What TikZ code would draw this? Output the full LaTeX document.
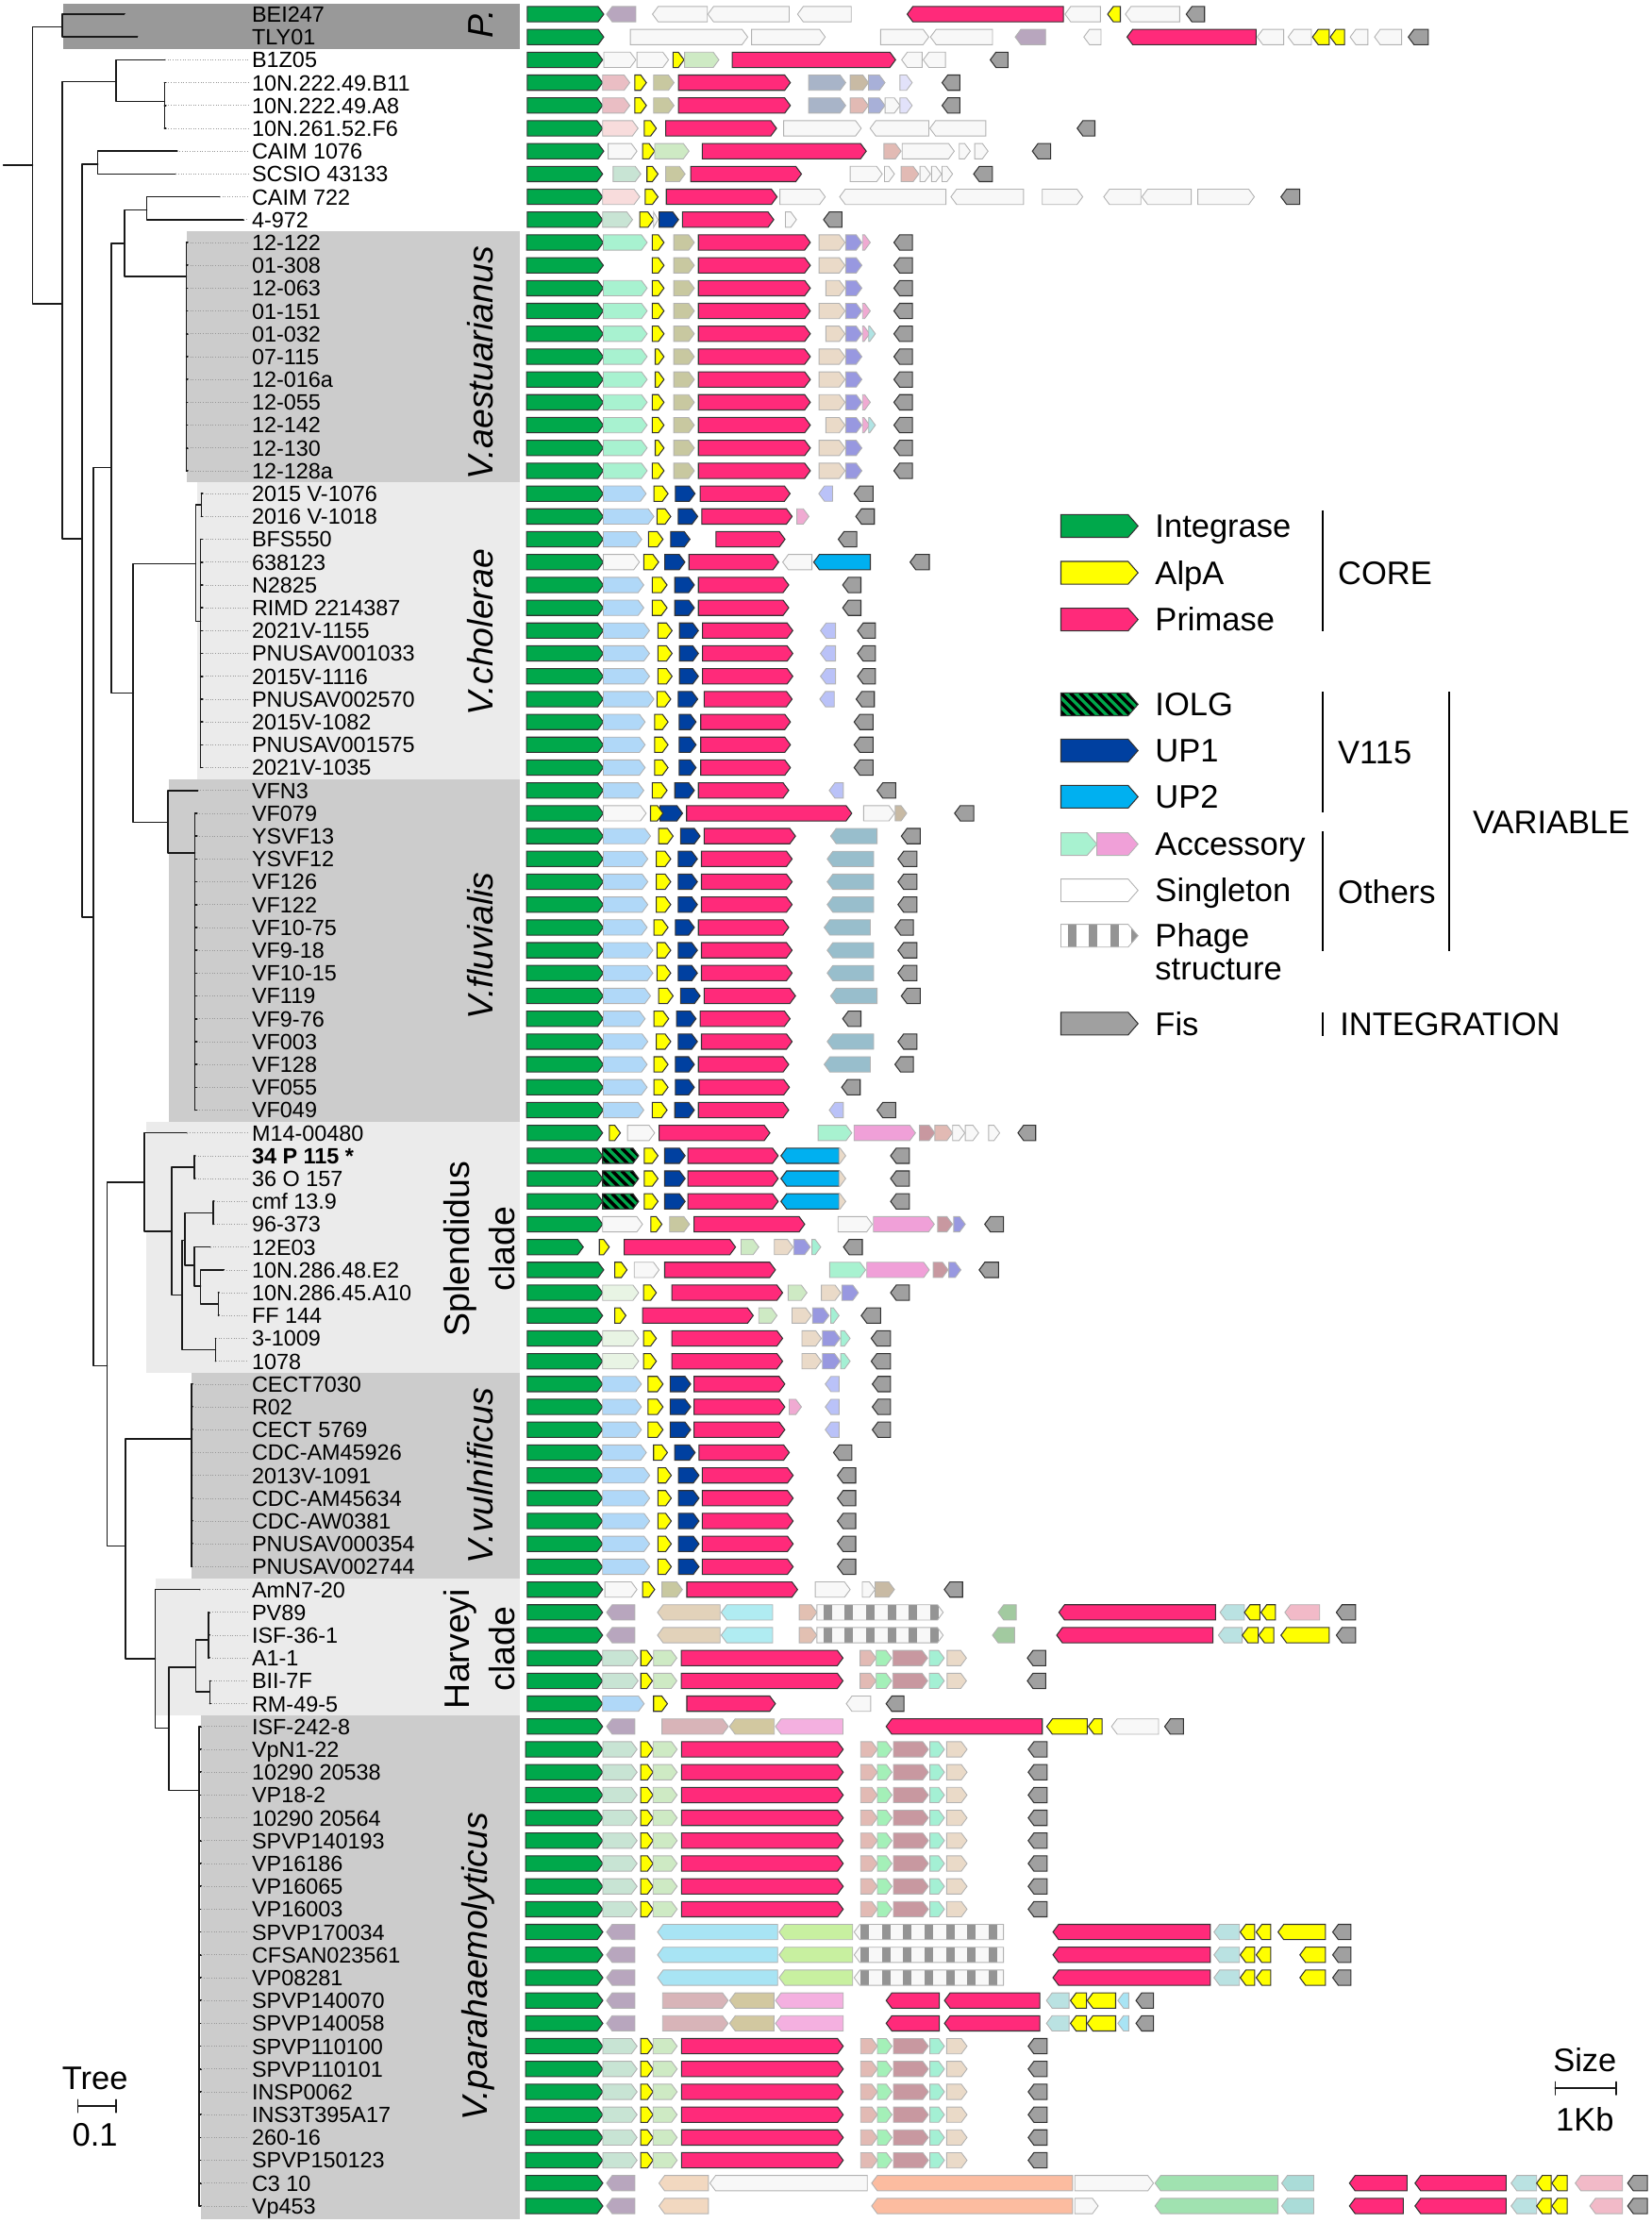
\documentclass[tikz,border=0pt]{standalone}
\usepackage{fontspec}
\setmainfont{Liberation Sans}
\definecolor{intg}{RGB}{0,168,75}
\definecolor{alpa}{RGB}{255,255,0}
\definecolor{prim}{RGB}{255,42,122}
\definecolor{upa}{RGB}{0,64,160}
\definecolor{upb}{RGB}{0,176,240}
\definecolor{fis}{RGB}{160,160,160}
\definecolor{mint}{RGB}{168,242,208}
\definecolor{pnk}{RGB}{240,160,216}
\definecolor{sgl}{RGB}{248,248,248}
\definecolor{mauv}{RGB}{184,166,190}
\definecolor{rosl}{RGB}{234,190,196}
\definecolor{khak}{RGB}{200,200,160}
\definecolor{stel}{RGB}{168,180,200}
\definecolor{tan}{RGB}{200,186,164}
\definecolor{lavb}{RGB}{168,176,216}
\definecolor{lavl}{RGB}{226,226,250}
\definecolor{pnkl}{RGB}{248,220,220}
\definecolor{grnl}{RGB}{206,234,196}
\definecolor{mgry}{RGB}{200,228,212}
\definecolor{rose}{RGB}{226,186,180}
\definecolor{beig}{RGB}{234,218,200}
\definecolor{lav}{RGB}{152,152,224}
\definecolor{pnks}{RGB}{240,170,210}
\definecolor{aqua}{RGB}{176,228,228}
\definecolor{lblu}{RGB}{176,216,248}
\definecolor{lavr}{RGB}{186,194,248}
\definecolor{teal}{RGB}{152,190,204}
\definecolor{drse}{RGB}{200,152,160}
\definecolor{mntg}{RGB}{164,240,184}
\definecolor{aqm}{RGB}{164,240,212}
\definecolor{gwht}{RGB}{232,244,228}
\definecolor{beih}{RGB}{226,210,186}
\definecolor{cyan}{RGB}{176,236,242}
\definecolor{salb}{RGB}{226,192,178}
\definecolor{grnh}{RGB}{162,202,160}
\definecolor{tlgt}{RGB}{186,226,226}
\definecolor{pnkh}{RGB}{242,186,200}
\definecolor{lcyn}{RGB}{168,228,244}
\definecolor{lime}{RGB}{200,240,160}
\definecolor{rsek}{RGB}{216,180,184}
\definecolor{khk2}{RGB}{210,200,160}
\definecolor{pnk2}{RGB}{244,176,224}
\definecolor{pch}{RGB}{242,216,192}
\definecolor{slm}{RGB}{252,188,160}
\definecolor{mgr}{RGB}{160,226,176}
\definecolor{tl2}{RGB}{170,220,216}
\definecolor{boxd}{gray}{0.6}
\definecolor{boxm}{gray}{0.8}
\definecolor{boxl}{gray}{0.92}
\tikzset{
  gF/.style={draw=black!80, line width=0.6pt},
  gR/.style={gF},
  gf/.style={draw=black!30, line width=0.5pt},
  gr/.style={gf},
  gs/.style={gF, path picture={\foreach \k in {-4,...,16}{\draw[black, line width=2pt] ([xshift=\k*0.2cm]path picture bounding box.north west) -- ++(0.6cm,-0.6cm);}}},
  gp/.style={gf, path picture={\foreach \k in {0,...,12}{\fill[black!42] ([xshift=\k*0.45cm+0.14cm]path picture bounding box.north west) rectangle ++(0.18cm,-0.6cm);}}},
  gq/.style={gp},
  tree/.style={draw=black!90, line width=0.9pt, line cap=round, line join=round},
  leader/.style={draw=black!40, line width=0.4pt, dash pattern=on 0.5pt off 1pt, shorten >=2pt},
  lab/.style={anchor=base west, inner sep=0pt, font=\fontsize{13.3}{15}\selectfont},
  clade/.style={rotate=90, inner sep=0pt, align=center, font=\fontsize{21.3}{27.3}\selectfont},
  leg/.style={anchor=base west, inner sep=0pt, font=\fontsize{19.6}{19.6}\selectfont},
  brk/.style={line width=1.2pt},
}
% gene arrows: x-from, x-to, y, colour, kind
\def\gdirF{1}\def\gdirR{-1}\def\gdirf{1}\def\gdirr{-1}\def\gdirs{1}\def\gdirp{1}\def\gdirq{-1}
\def\ght{5.4}\def\gtp{4}\def\gox{359.5}\def\gsc{1}
\newcommand\garrow[5]{%
  \pgfmathsetmacro\gdd{\csname gdir#5\endcsname}%
  \pgfmathsetmacro\gtt{min(\gtp,(#2)-(#1))}%
  \pgfmathsetmacro\gtl{\gdd>0 ? #1 : #2}%
  \pgfmathsetmacro\ghd{\gdd>0 ? #2 : #1}%
  \pgfmathsetmacro\gnk{\ghd-\gdd*\gtt}%
  \path[g#5, fill=#4] (\gtl,#3-\ght) -- (\gnk,#3-\ght) -- (\ghd,#3) -- (\gnk,#3+\ght) -- (\gtl,#3+\ght) -- cycle;}
\newcommand\generow[2]{%
  \pgfmathsetmacro\gyy{ry(#1)}%
  \edef\glist{#2}%
  \foreach \xa/\xb/\gc/\gk in \glist {%
    \pgfmathsetmacro\gaa{\gox+\xa*\gsc}%
    \pgfmathsetmacro\gbb{\gox+\xb*\gsc}%
    \garrow{\gaa}{\gbb}{\gyy}{\gc}{\gk}}}
\begin{document}
\begin{tikzpicture}[x=0.03cm, y=-0.03cm, declare function={ry(\r)=10+(\r-1)*16.104;}]
\useasboundingbox (0,0) rectangle (1165,1568);

\fill[boxd] (44.5,2.7) rectangle (367,34.8);
\fill[boxm] (131.5,{ry(10.5)}) rectangle (367,{ry(21.5)});
\fill[boxl] (139,{ry(21.5)}) rectangle (367,{ry(34.5)});
\fill[boxm] (119.4,{ry(34.5)}) rectangle (367,{ry(49.5)});
\fill[boxl] (103,{ry(49.5)}) rectangle (367,{ry(60.5)});
\fill[boxm] (135,{ry(60.5)}) rectangle (367,{ry(69.5)});
\fill[boxl] (110,{ry(69.5)}) rectangle (367,{ry(75.5)});
\fill[boxm] (141.5,{ry(75.5)}) rectangle (367,1565);

\node[clade, font=\fontsize{21.3}{27.3}\selectfont\itshape] (cP) at (339,17) {P.};
\node[clade, font=\fontsize{21.3}{27.3}\selectfont\itshape] (cAes) at (339,256) {V.aestuarianus};
\node[clade, font=\fontsize{21.3}{27.3}\selectfont\itshape] (cCho) at (339,446) {V.cholerae};
\node[clade, font=\fontsize{21.3}{27.3}\selectfont\itshape] (cFlu) at (339,667) {V.fluvialis};
\node[clade] (cSpl) at (338,881) {Splendidus\\clade};
\node[clade, font=\fontsize{21.3}{27.3}\selectfont\itshape] (cVul) at (339,1041) {V.vulnificus};
\node[clade] (cHar) at (338,1163) {Harveyi\\clade};
\node[clade, font=\fontsize{21.3}{27.3}\selectfont\itshape] (cPar) at (337,1387) {V.parahaemolyticus};

\draw[tree]
  (2.4,{ry(7.62)}) -- (23,{ry(7.62)})
  (44,{ry(1.55)}) -| (23,{ry(13.68)}) -- (44,{ry(13.68)})
  (88,{ry(1)}) -| (44,{ry(2)}) -- (97,{ry(2)})
  (82,{ry(3.95)}) -| (44,{ry(23.97)}) -- (58,{ry(23.97)})
  (116.5,{ry(3)}) -| (82,{ry(4.83)}) -- (116,{ry(4.83)})
  (116,{ry(4)}) -- (116,{ry(6)})
  (69,{ry(7.57)}) -| (58,{ry(40.55)}) -- (66,{ry(40.55)})
  (125,{ry(7)}) -| (69,{ry(8)}) -- (124,{ry(8)})
  (78.5,{ry(20.86)}) -| (66,{ry(60.2)}) -- (75.6,{ry(60.2)})
  (88,{ry(11.03)}) -| (78.5,{ry(30.74)}) -- (94,{ry(30.74)})
  (103.5,{ry(9.58)}) -| (88,{ry(12.48)}) -- (131.5,{ry(12.48)})
  (155,{ry(9)}) -| (103.5,{ry(10)}) -- (172,{ry(10)})
  (131.5,{ry(11)}) -- (131.5,{ry(21)})
  (138,{ry(25.07)}) -| (94,{ry(36.4)}) -- (118.5,{ry(36.4)})
  (142,{ry(22.5)}) -| (138,{ry(27.6)}) -- (141.5,{ry(27.6)})
  (142,{ry(22)}) -- (142,{ry(23)})
  (141.5,{ry(24)}) -- (141.5,{ry(34)})
  (139.5,{ry(35)}) -| (118.5,{ry(37.75)}) -- (137.5,{ry(37.75)})
  (137.5,{ry(36)}) -- (137.5,{ry(49)})
  (102,{ry(52.15)}) -| (75.6,{ry(68.1)}) -- (88.5,{ry(68.1)})
  (132,{ry(50)}) -| (102,{ry(54.3)}) -- (121.3,{ry(54.3)})
  (137.2,{ry(51.5)}) -| (121.3,{ry(57.1)}) -- (128.4,{ry(57.1)})
  (137.2,{ry(51)}) -- (137.2,{ry(52)})
  (130.3,{ry(54.7)}) -| (128.4,{ry(59.5)}) -- (152,{ry(59.5)})
  (150.5,{ry(53.5)}) -| (130.3,{ry(55.8)}) -- (137,{ry(55.8)})
  (150.5,{ry(53)}) -- (150.5,{ry(54)})
  (148.5,{ry(55)}) -| (137,{ry(56.7)}) -- (141.5,{ry(56.7)})
  (158,{ry(56)}) -| (141.5,{ry(57.5)}) -- (154,{ry(57.5)})
  (154,{ry(57)}) -- (154,{ry(58)})
  (152,{ry(59)}) -- (152,{ry(60)})
  (135,{ry(63.4)}) -| (88.5,{ry(73.03)}) -- (109.5,{ry(73.03)})
  (135,{ry(61)}) -- (135,{ry(69)})
  (141,{ry(70)}) -| (109.5,{ry(76.07)}) -- (119,{ry(76.07)})
  (138,{ry(73.4)}) -| (119,{ry(78.8)}) -- (140.5,{ry(78.8)})
  (147,{ry(72.2)}) -| (138,{ry(74.47)}) -- (148,{ry(74.47)})
  (147,{ry(71)}) -- (147,{ry(73)})
  (148,{ry(74)}) -- (148,{ry(75)})
  (140.5,{ry(76)}) -- (140.5,{ry(97)});

\foreach \i/\lnx/\llx/\t in {1/88/88/BEI247, 2/97/97/TLY01, 3/116.5/116.5/B1Z05,
    4/116/117/10N.222.49.B11, 5/116/117/10N.222.49.A8, 6/116/117/10N.261.52.F6,
    7/125/125/CAIM 1076, 8/124/124/SCSIO 43133, 9/155/155/CAIM 722, 10/172/172/4-972,
    11/131.5/132.5/12-122, 12/131.5/132.5/01-308, 13/131.5/132.5/12-063, 14/131.5/132.5/01-151,
    15/131.5/132.5/01-032, 16/131.5/132.5/07-115, 17/131.5/132.5/12-016a, 18/131.5/132.5/12-055,
    19/131.5/132.5/12-142, 20/131.5/132.5/12-130, 21/131.5/132.5/12-128a,
    22/142/143/2015 V-1076, 23/142/143/2016 V-1018, 24/141.5/143/BFS550, 25/141.5/143/638123,
    26/141.5/143/N2825, 27/141.5/143/RIMD 2214387, 28/141.5/143/2021V-1155,
    29/141.5/143/PNUSAV001033, 30/141.5/143/2015V-1116, 31/141.5/143/PNUSAV002570,
    32/141.5/143/2015V-1082, 33/141.5/143/PNUSAV001575, 34/141.5/143/2021V-1035,
    35/139.5/139.5/VFN3, 36/137.5/139/VF079, 37/137.5/139/YSVF13, 38/137.5/139/YSVF12,
    39/137.5/139/VF126, 40/137.5/139/VF122, 41/137.5/139/VF10-75, 42/137.5/139/VF9-18,
    43/137.5/139/VF10-15, 44/137.5/139/VF119, 45/137.5/139/VF9-76, 46/137.5/139/VF003,
    47/137.5/139/VF128, 48/137.5/139/VF055, 49/137.5/139/VF049,
    50/132/132/M14-00480, 51/137.2/137.7/{\bfseries 34 P 115 *}, 52/137.2/137.7/36 O 157,
    53/150.5/151/cmf 13.9, 54/150.5/151/96-373, 55/148.5/148.5/12E03,
    56/158/158/10N.286.48.E2, 57/154/154.5/10N.286.45.A10, 58/154/154.5/FF 144,
    59/152/152.5/3-1009, 60/152/152.5/1078,
    61/135/136/CECT7030, 62/135/136/R02, 63/135/136/CECT 5769, 64/135/136/CDC-AM45926,
    65/135/136/2013V-1091, 66/135/136/CDC-AM45634, 67/135/136/CDC-AW0381,
    68/135/136/PNUSAV000354, 69/135/136/PNUSAV002744,
    70/141/141/AmN7-20, 71/147/148/PV89, 72/147/148/ISF-36-1, 73/147/148/A1-1,
    74/148/149/BII-7F, 75/148/149/RM-49-5,
    76/140.5/142/ISF-242-8, 77/140.5/142/VpN1-22, 78/140.5/142/10290 20538,
    79/140.5/142/VP18-2, 80/140.5/142/10290 20564, 81/140.5/142/SPVP140193,
    82/140.5/142/VP16186, 83/140.5/142/VP16065, 84/140.5/142/VP16003,
    85/140.5/142/SPVP170034, 86/140.5/142/CFSAN023561, 87/140.5/142/VP08281,
    88/140.5/142/SPVP140070, 89/140.5/142/SPVP140058, 90/140.5/142/SPVP110100,
    91/140.5/142/SPVP110101, 92/140.5/142/INSP0062, 93/140.5/142/INS3T395A17,
    94/140.5/142/260-16, 95/140.5/142/SPVP150123, 96/140.5/142/C3 10, 97/140.5/142/Vp453}
  {
  \coordinate (t\i) at (\llx,{ry(\i)});
  \node[lab] (s\i) at (177.5,{ry(\i)+5.6}) {\t};
  \draw[tree] (\lnx,{ry(\i)}) -- (t\i);
  \draw[leader] (t\i) -- (t\i -| s\i.west);
  }

% rows 1-10
\def\gsc{0.3906}
\generow{1}{32/170/intg/F, 175/228/mauv/r, 258/357/sgl/r, 358/505/sgl/r, 520/617/sgl/r, 718/1000/prim/R, 1003/1067/sgl/r, 1080/1103/alpa/R, 1112/1210/sgl/r, 1222/1255/fis/R}
\generow{2}{32/170/intg/F, 218/430/sgl/f, 437/570/sgl/f, 670/757/sgl/f, 760/872/sgl/r, 913/968/mauv/r, 1037/1068/sgl/r, 1115/1348/prim/R, 1350/1398/sgl/r, 1406/1448/sgl/r, 1450/1480/alpa/R, 1482/1508/alpa/R, 1518/1550/sgl/r, 1562/1611/sgl/r, 1623/1659/fis/R}
\generow{3}{32/168/intg/F, 170/228/sgl/f, 230/287/sgl/f, 295/315/alpa/F, 316/378/grnl/f, 402/697/prim/F, 708/745/sgl/r, 747/787/sgl/r, 868/900/fis/R}
\generow{4}{32/168/intg/F, 168/217/rosl/f, 226/247/alpa/F, 260/297/khak/f, 305/507/prim/F, 540/607/stel/f, 615/648/tan/f, 648/678/lavb/f, 705/727/lavl/f, 781/813/fis/R}
\generow{5}{32/168/intg/F, 168/217/rosl/f, 226/247/alpa/F, 260/297/khak/f, 305/507/prim/F, 540/607/stel/f, 615/648/rose/f, 648/678/lavb/f, 678/705/sgl/f, 705/727/lavl/f, 781/813/fis/R}
\generow{6}{32/168/intg/F, 168/232/pnkl/f, 243/265/alpa/F, 282/482/prim/F, 495/635/sgl/f, 651/757/sgl/r, 759/860/sgl/r, 1025/1057/fis/R}
\generow{7}{32/170/intg/F, 178/230/sgl/f, 240/262/alpa/F, 262/324/grnl/f, 348/644/prim/F, 676/707/rose/f, 709/803/sgl/f, 812/832/sgl/f, 840/864/sgl/f, 944/977/fis/R}
\generow{8}{32/168/intg/F, 187/237/mgry/f, 248/268/alpa/F, 282/317/khak/f, 327/527/prim/F, 615/673/sgl/f, 677/695/sgl/f, 707/739/rose/f, 741/760/sgl/f, 762/780/sgl/f, 781/800/sgl/f, 838/872/fis/R}
\generow{9}{32/168/intg/F, 168/235/pnkl/f, 245/268/alpa/F, 283/483/prim/F, 488/570/sgl/f, 596/788/sgl/r, 797/928/sgl/r, 962/1035/sgl/f, 1073/1140/sgl/r, 1142/1231/sgl/r, 1243/1345/sgl/f, 1393/1427/fis/R}
\generow{10}{32/168/intg/F, 168/222/mgry/f, 235/260/alpa/F, 260/268/sgl/f, 270/305/upa/F, 312/477/prim/F, 498/518/sgl/f, 567/600/fis/R}

% rows 11-49
\def\gsc{0.2378}
\def\aeA{50/278/intg/F, 278/408/mint/f, 423/458/alpa/F, 487/548/khak/f, 560/892/prim/F, 918/995/beig/f, 997/1045/lav/f, 1047/1070/pnks/f, 1140/1195/fis/R}
\def\aeB{50/278/intg/F, 278/408/mint/f, 432/458/alpa/F, 487/548/khak/f, 560/892/prim/F, 918/995/beig/f, 997/1045/lav/f, 1140/1195/fis/R}
\def\aeC{50/278/intg/F, 278/408/mint/f, 423/458/alpa/F, 487/548/khak/f, 560/892/prim/F, 938/995/beig/f, 997/1045/lav/f, 1047/1068/pnks/f, 1065/1085/aqua/f, 1140/1195/fis/R}
\foreach \r in {11,14,18}{\generow{\r}{\aeA}}
\foreach \r in {16,17,20}{\generow{\r}{\aeB}}
\foreach \r in {15,19}{\generow{\r}{\aeC}}
\generow{12}{50/278/intg/F, 423/458/alpa/F, 487/548/khak/f, 560/892/prim/F, 918/995/beig/f, 997/1045/lav/f, 1140/1195/fis/R}
\generow{13}{50/278/intg/F, 278/408/mint/f, 423/458/alpa/F, 487/548/khak/f, 560/892/prim/F, 938/995/beig/f, 997/1045/lav/f, 1140/1195/fis/R}
\generow{21}{50/278/intg/F, 278/408/mint/f, 423/458/alpa/F, 487/548/khak/f, 560/892/prim/F, 918/995/beig/f, 997/1045/lav/f, 1140/1195/fis/R}
\generow{22}{50/278/intg/F, 278/405/lblu/f, 428/470/alpa/F, 492/550/upa/F, 565/832/prim/F, 917/958/lavr/r, 1022/1078/fis/R}
\generow{23}{50/278/intg/F, 278/428/lblu/f, 437/478/alpa/F, 500/558/upa/F, 570/838/prim/F, 852/888/pnks/f, 1027/1082/fis/R}
\generow{24}{50/278/intg/F, 278/392/lblu/f, 412/455/alpa/F, 478/535/upa/F, 612/817/prim/F, 975/1030/fis/R}
\generow{25}{50/278/intg/F, 278/385/sgl/f, 398/442/alpa/F, 460/520/upa/F, 532/798/prim/F, 810/897/sgl/r, 902/1070/upb/R, 1188/1245/fis/R}
\def\chA{50/278/intg/F, 278/398/lblu/f, 423/467/alpa/F, 490/548/upa/F, 560/828/prim/F, 988/1042/fis/R}
\def\chB{50/278/intg/F, 278/415/lblu/f, 440/482/alpa/F, 504/560/upa/F, 572/840/prim/F, 922/967/lavr/r, 1032/1085/fis/R}
\def\chC{50/278/intg/F, 278/402/lblu/f, 430/470/alpa/F, 503/553/upa/F, 567/833/prim/F, 1022/1078/fis/R}
\foreach \r in {26,27}{\generow{\r}{\chA}}
\foreach \r in {28,29,30}{\generow{\r}{\chB}}
\generow{31}{50/278/intg/F, 278/428/lblu/f, 437/478/alpa/F, 500/558/upa/F, 577/838/prim/F, 920/963/lavr/r, 1028/1082/fis/R}
\foreach \r in {32,33,34}{\generow{\r}{\chC}}
\def\fvA{50/278/intg/F, 278/398/lblu/f, 423/467/alpa/F, 490/548/upa/F, 560/828/prim/F, 948/990/lavr/r, 1090/1145/fis/R}
\def\fvB{50/278/intg/F, 278/418/lblu/f, 442/485/alpa/F, 507/565/upa/F, 577/848/prim/F, 952/1090/teal/r, 1162/1218/fis/R}
\def\fvC{50/278/intg/F, 278/410/lblu/f, 435/478/alpa/F, 500/557/upa/F, 569/838/prim/F, 942/1080/teal/r, 1152/1208/fis/R}
\def\fvD{50/278/intg/F, 278/408/lblu/f, 428/470/alpa/F, 492/548/upa/F, 560/828/prim/F, 933/1070/teal/r, 1143/1198/fis/R}
\def\fvE{50/278/intg/F, 278/425/lblu/f, 437/478/alpa/F, 500/557/upa/F, 569/838/prim/F, 942/1080/teal/r, 1152/1208/fis/R}
\foreach \r in {35,49}{\generow{\r}{\fvA}}
\generow{36}{50/278/intg/F, 278/405/sgl/f, 446/513/upa/F, 418/455/alpa/F, 525/1015/prim/F, 1050/1142/sgl/f, 1144/1178/tan/f, 1320/1377/fis/R}
\foreach \r in {37,44}{\generow{\r}{\fvB}}
\foreach \r in {38,39,40,46}{\generow{\r}{\fvC}}
\foreach \r in {41,47}{\generow{\r}{\fvD}}
\foreach \r in {42,43}{\generow{\r}{\fvE}}
\generow{45}{50/278/intg/F, 278/402/lblu/f, 428/472/alpa/F, 495/553/upa/F, 565/832/prim/F, 988/1042/fis/R}
\generow{48}{50/278/intg/F, 278/408/lblu/f, 428/470/alpa/F, 492/548/upa/F, 562/830/prim/F, 985/1040/fis/R}

% rows 50-76
\def\gsc{0.3906}
\generow{50}{32/168/intg/F, 180/200/alpa/F, 213/262/sgl/f, 270/470/prim/F, 557/618/mint/f, 622/733/pnk/f, 740/768/drse/f, 768/800/rose/f, 800/822/sgl/f, 823/847/sgl/f, 865/885/sgl/f, 918/950/fis/R}
\def\spA{32/168/intg/F, 168/233/intg/s, 243/268/alpa/F, 280/317/upa/F, 322/485/prim/F, 490/595/upb/R, 595/607/beig/f, 688/722/fis/R}
\foreach \r in {51,52,53}{\generow{\r}{\spA}}
\generow{54}{32/168/intg/F, 168/240/sgl/f, 255/275/alpa/F, 289/325/khak/f, 333/533/prim/F, 593/655/sgl/f, 657/767/pnk/f, 773/800/drse/f, 802/823/lav/f, 858/892/fis/R}
\generow{55}{32/133/intg/F, 162/180/alpa/F, 207/408/prim/F, 418/450/grnl/f, 478/512/beig/f, 513/543/lav/f, 546/562/aqm/f, 603/637/fis/R}
\generow{56}{32/170/intg/F, 190/212/alpa/F, 225/270/sgl/f, 280/480/prim/F, 578/643/mint/f, 645/758/pnk/f, 765/792/drse/f, 793/815/lav/f, 848/883/fis/R}
\generow{57}{32/168/intg/F, 168/233/gwht/f, 242/265/alpa/F, 293/493/prim/F, 503/537/grnl/f, 563/598/beig/f, 600/630/lav/f, 688/722/fis/R}
\generow{58}{32/168/intg/F, 190/210/alpa/F, 240/440/prim/F, 450/483/grnl/f, 510/545/beig/f, 547/577/lav/f, 580/595/aqm/f, 635/670/fis/R}
\def\spB{32/168/intg/F, 168/233/gwht/f, 242/265/alpa/F, 293/493/prim/F, 528/563/beig/f, 565/597/lav/f, 598/615/aqm/f, 653/688/fis/R}
\foreach \r in {59,60}{\generow{\r}{\spB}}
\def\vuA{32/168/intg/F, 168/238/lblu/f, 250/277/alpa/F, 290/327/upa/F, 333/497/prim/F, 570/595/lavr/r, 655/688/fis/R}
\def\vuB{32/168/intg/F, 168/253/lblu/f, 268/292/alpa/F, 305/342/upa/F, 348/512/prim/F, 592/625/fis/R}
\foreach \r in {61,63}{\generow{\r}{\vuA}}
\generow{62}{\vuA, 505/527/pnks/f}
\generow{64}{32/168/intg/F, 168/247/lblu/f, 260/285/alpa/F, 298/335/upa/F, 342/505/prim/F, 585/618/fis/R}
\foreach \r in {65,...,69}{\generow{\r}{\vuB}}
\generow{70}{32/168/intg/F, 172/230/sgl/f, 240/262/alpa/F, 275/312/khak/f, 320/520/prim/F, 552/615/sgl/f, 637/660/sgl/f, 660/695/tan/f, 785/818/fis/R}
\generow{71}{32/168/intg/F, 175/226/mauv/r, 267/380/beih/r, 382/475/cyan/r, 523/555/salb/f, 555/783/sgl/p, 882/915/grnh/r, 992/1275/prim/R, 1283/1327/tlgt/r, 1327/1355/alpa/R, 1357/1383/alpa/R, 1400/1463/pnkh/r, 1493/1528/fis/R}
\generow{72}{32/168/intg/F, 175/226/mauv/r, 267/380/beih/r, 382/475/cyan/r, 523/555/salb/f, 555/783/sgl/p, 872/912/grnh/r, 988/1270/prim/R, 1280/1323/tlgt/r, 1323/1352/alpa/R, 1353/1380/alpa/R, 1393/1480/alpa/R, 1493/1528/fis/R}
\def\hvA{32/168/intg/F, 168/232/mgry/f, 237/258/alpa/F, 260/302/grnl/f, 310/602/prim/F, 633/662/rose/f, 662/690/mntg/f, 692/755/drse/f, 758/785/aqm/f, 790/825/beig/f, 935/968/fis/R}
\foreach \r in {73,74}{\generow{\r}{\hvA}}
\generow{75}{32/168/intg/F, 168/243/lblu/f, 260/285/alpa/F, 320/480/prim/F, 608/652/sgl/r, 680/712/fis/R}
\generow{76}{32/168/intg/F, 175/226/mauv/r, 275/395/rsek/f, 397/478/khk2/r, 480/602/pnk2/r, 680/962/prim/R, 970/1043/alpa/R, 1045/1070/alpa/R, 1087/1172/sgl/r, 1183/1217/fis/R}

% rows 77-97
\def\gsc{0.5138}
\def\vpA{22/128/intg/F, 128/175/mgry/f, 180/197/alpa/F, 197/230/grnl/f, 236/458/prim/F, 482/505/rose/f, 505/525/mntg/f, 527/575/drse/f, 577/597/aqm/f, 600/628/beig/f, 712/738/fis/R}
\foreach \r in {77,...,84}{\generow{\r}{\vpA}}
\foreach \r in {90,...,95}{\generow{\r}{\vpA}}
\generow{85}{22/128/intg/F, 133/172/mauv/r, 203/368/lcyn/r, 370/471/lime/r, 473/678/sgl/q, 746/962/prim/R, 967/1002/tlgt/r, 1003/1023/alpa/R, 1025/1045/alpa/R, 1055/1120/alpa/R, 1130/1155/fis/R}
\foreach \r in {86,87}{\generow{\r}{22/128/intg/F, 133/172/mauv/r, 203/368/lcyn/r, 370/471/lime/r, 473/678/sgl/q, 746/962/prim/R, 967/1002/tlgt/r, 1003/1023/alpa/R, 1025/1045/alpa/R, 1085/1120/alpa/R, 1130/1155/fis/R}}
\foreach \r in {88,89}{\generow{\r}{22/128/intg/F, 133/172/mauv/r, 210/300/rsek/f, 302/363/khk2/r, 365/458/pnk2/r, 517/590/prim/R, 597/728/prim/R, 737/768/tlgt/r, 770/792/alpa/R, 793/832/alpa/R, 835/850/lcyn/r, 860/884/fis/R}}
\generow{96}{22/128/intg/F, 133/172/mauv/r, 205/273/pch/r, 275/491/sgl/r, 497/773/slm/r, 776/884/sgl/f, 886/1055/mgr/r, 1060/1104/tl2/r, 1153/1232/prim/R, 1243/1368/prim/R, 1375/1410/tlgt/r, 1410/1430/alpa/R, 1431/1452/alpa/R, 1463/1528/pnkh/r, 1535/1562/fis/R}
\generow{97}{22/128/intg/F, 133/172/mauv/r, 205/273/pch/r, 497/773/slm/r, 776/808/sgl/f, 886/1055/mgr/r, 1060/1104/tl2/r, 1153/1227/prim/R, 1243/1368/prim/R, 1375/1410/tlgt/r, 1410/1430/alpa/R, 1431/1452/alpa/R, 1483/1528/pnkh/r, 1535/1562/fis/R}

% legend
\begin{scope}
\def\ght{8}\def\gtp{7}
\foreach \yy/\cc/\kk in {371/intg/F, 404/alpa/F, 437/prim/F, 496.8/intg/s, 529.4/upa/F, 562/upb/F, 628/white/f, 660/white/p, 722/fis/F}
  {\garrow{748.4}{802.8}{\yy}{\cc}{\kk}}
\garrow{748.4}{773.8}{595.4}{mint}{f}
\garrow{773.8}{802.8}{595.4}{pnk}{f}
\end{scope}
\node[leg] (kInt) at (814.7,379.2) {Integrase};
\node[leg] (kAlp) at (814.7,412.2) {AlpA};
\node[leg] (kPri) at (814.7,445.2) {Primase};
\node[leg] (kIol) at (814.7,505) {IOLG};
\node[leg] (kUpa) at (814.7,537.6) {UP1};
\node[leg] (kUpb) at (814.7,570.2) {UP2};
\node[leg] (kAcc) at (814.7,603.6) {Accessory};
\node[leg] (kSgl) at (814.7,636.2) {Singleton};
\node[leg, anchor=west, align=left] (kPhg) at (814.7,671.3) {Phage\\structure};
\node[leg] (kFis) at (814.7,730.2) {Fis};
\node[leg] (kCore) at (943.6,412.2) {CORE};
\node[leg] (kV115) at (943.6,538.9) {V115};
\node[leg] (kOth) at (943.6,637.2) {Others};
\node[leg] (kVar) at (1038.8,587.8) {VARIABLE};
\node[leg] (kIntg) at (945,730.2) {INTEGRATION};
\draw[brk] (933,360) -- (933,445.5);
\draw[brk] (933,488) -- (933,573);
\draw[brk] (933,586.6) -- (933,671);
\draw[brk] (1022,488) -- (1022,671);
\draw[brk] (933,714) -- (933,731);

% scale bars
\node[leg, anchor=center] (sTree) at (67,1466) {Tree};
\node[leg, anchor=center] (sTreeV) at (67,1506) {0.1};
\draw[tree] (55,1485.5) -- (82,1485.5) (55,1481) -- (55,1490) (82,1481) -- (82,1490);
\node[leg, anchor=center] (sSize) at (1118,1453) {Size};
\node[leg, anchor=center] (sSizeV) at (1118,1495) {1Kb};
\draw[tree] (1097,1473) -- (1140,1473) (1097,1468.5) -- (1097,1477.5) (1140,1468.5) -- (1140,1477.5);
\end{tikzpicture}
\end{document}
